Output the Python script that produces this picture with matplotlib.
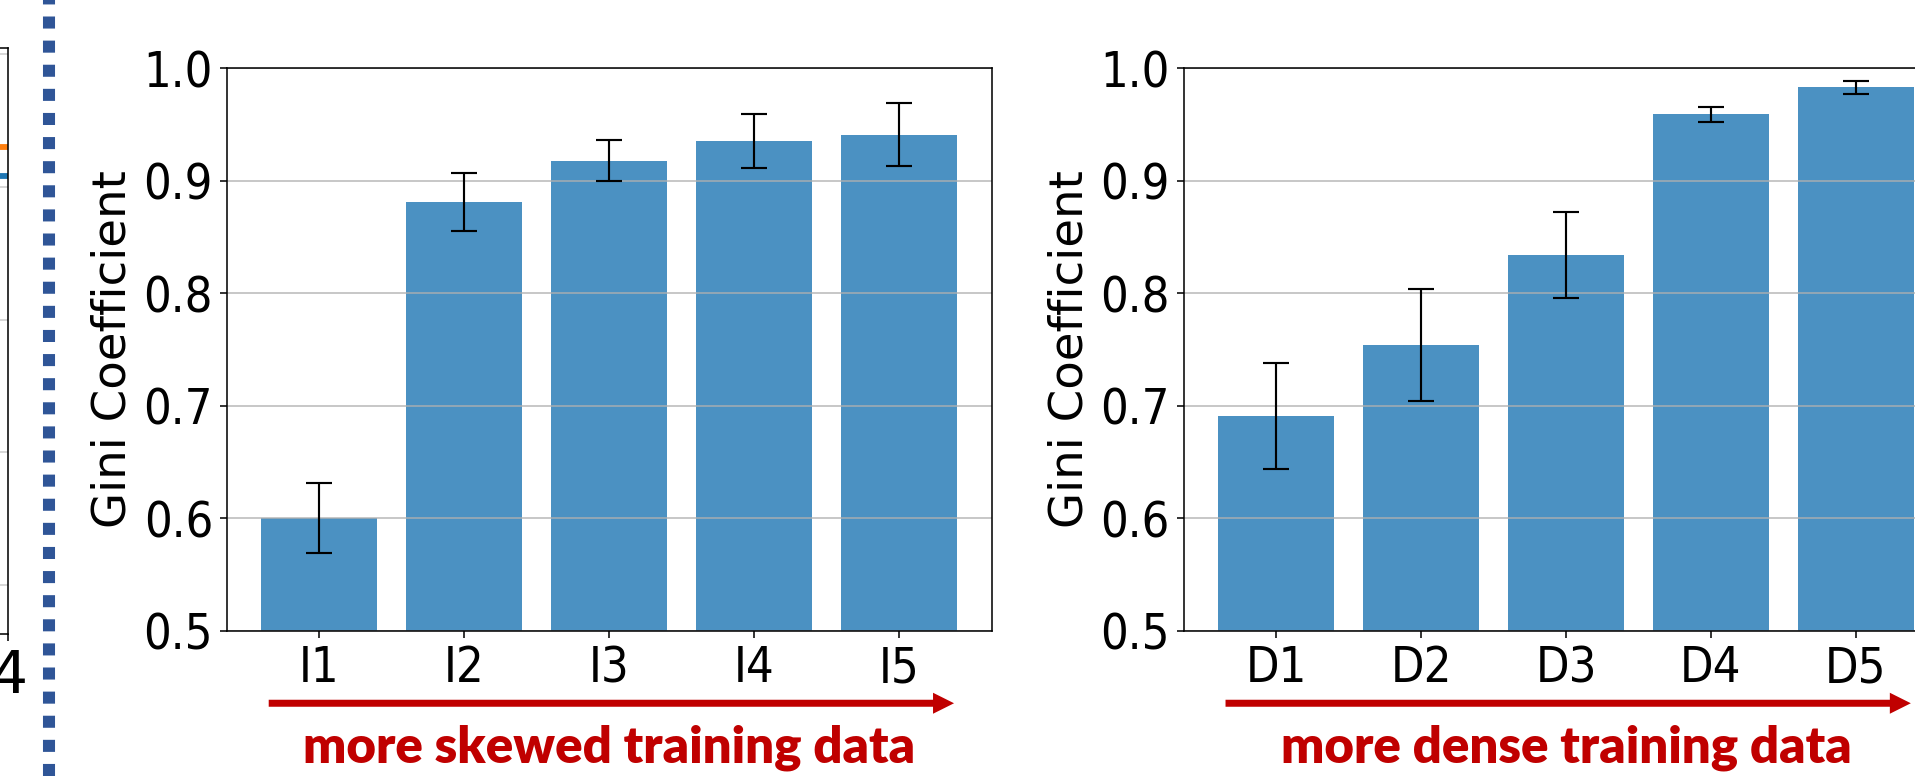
import matplotlib.pyplot as plt
from matplotlib.lines import Line2D

plt.rcParams['font.family'] = 'DejaVu Sans'

DPI = 140
BAR_COLOR = "#4b91c2"
NOTE_COLOR = "#c00000"

skew_labels = ["I1", "I2", "I3", "I4", "I5"]
skew_gini = [0.600, 0.881, 0.918, 0.935, 0.941]
skew_err = [0.031, 0.026, 0.018, 0.024, 0.028]

dense_labels = ["D1", "D2", "D3", "D4", "D5"]
dense_gini = [0.691, 0.754, 0.834, 0.959, 0.983]
dense_err = [0.047, 0.050, 0.038, 0.007, 0.006]

# right end of the neighbouring line plot
prev_x = [3, 4]
prev_orange = [0.860, 0.860]
prev_blue = [0.817, 0.817]
prev_yticks = [0.2, 0.4, 0.6, 0.8, 1.0]


def plot_gini(ax, labels, gini, err, note):
    x = range(len(labels))
    ax.bar(x, gini, width=0.8, color=BAR_COLOR, yerr=err, capsize=6.7,
           error_kw=dict(ecolor="black", elinewidth=1.1, capthick=1.1))
    ax.set_ylim(0.5, 1.0)
    ax.set_yticks([0.5, 0.6, 0.7, 0.8, 0.9, 1.0])
    ax.set_yticklabels(["0.5", "0.6", "0.7", "0.8", "0.9", "1.0"])
    ax.set_xticks(list(x))
    ax.set_xticklabels(labels)
    ax.tick_params(labelsize=25)
    for lbl in ax.get_xticklabels() + ax.get_yticklabels():
        lbl.set_fontstretch("condensed")
    ax.grid(axis="y", color="#b0b0b0", linewidth=1.0, alpha=0.7)
    ax.set_ylabel("Gini Coefficient", fontsize=24)
    # red arrow + caption under the x axis
    ax.annotate("", xy=(4.38, -0.129), xytext=(-0.35, -0.129),
                xycoords=("data", "axes fraction"),
                textcoords=("data", "axes fraction"),
                annotation_clip=False,
                arrowprops=dict(arrowstyle="simple,head_length=1.08,head_width=1.08,tail_width=0.36",
                                mutation_scale=10, color=NOTE_COLOR, lw=0,
                                shrinkA=0, shrinkB=0))
    ax.text(2, -0.235, note, transform=ax.get_xaxis_transform(),
            ha="center", va="baseline", color=NOTE_COLOR,
            fontsize=26.3, fontweight="heavy", family="Lato")


fig = plt.figure(figsize=(1915 / DPI, 776 / DPI), dpi=DPI)

# neighbouring panel, only its right edge shows
ax0 = fig.add_axes([-0.4, 0.18247, 0.40433, 0.75606])
ax0.plot(prev_x, prev_orange, color="tab:orange", linewidth=3)
ax0.plot(prev_x, prev_blue, color="tab:blue", linewidth=3)
ax0.set_xlim(0, 4)
ax0.set_ylim(0.125, 1.01)
ax0.set_yticks(prev_yticks)
ax0.set_yticklabels([])
ax0.set_xticks([4])
ax0.tick_params(labelsize=30)
ax0.grid(axis="y", color="#cccccc", linewidth=0.8)

ax1 = fig.add_axes([0.11838, 0.18724, 0.39948, 0.72474])
plot_gini(ax1, skew_labels, skew_gini, skew_err, "more skewed training data")

ax2 = fig.add_axes([0.61802, 0.18724, 0.39948, 0.72474])
plot_gini(ax2, dense_labels, dense_gini, dense_err, "more dense training data")

# dotted separator between panels
fig.add_artist(Line2D([49 / 1915, 49 / 1915], [0, 1], transform=fig.transFigure,
                      color="#2f5597", linewidth=6.2, dashes=(1, 1),
                      solid_capstyle="butt", dash_capstyle="butt"))

fig.savefig("out.png", dpi=DPI)
